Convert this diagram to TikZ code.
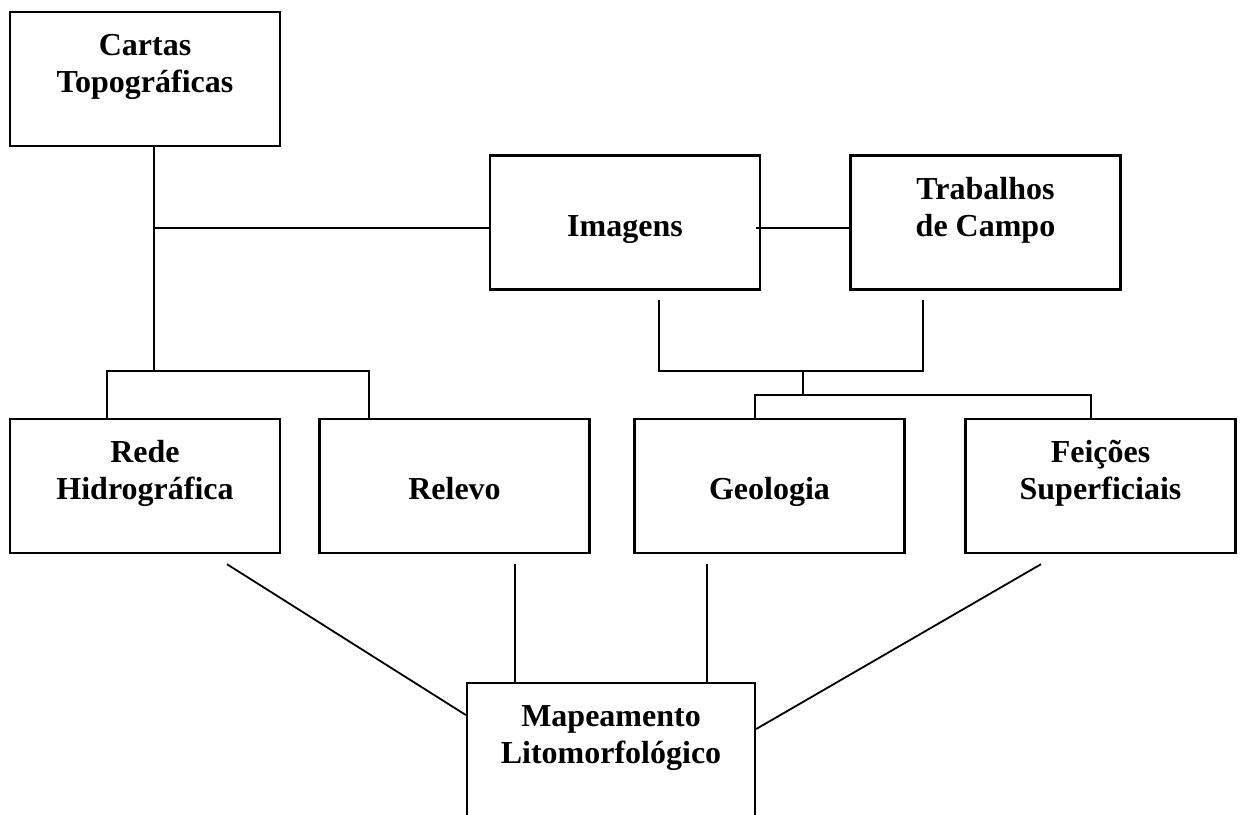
\documentclass[tikz,border=0pt]{standalone}
\usepackage{fontspec}
\setmainfont{Liberation Serif}
\usetikzlibrary{positioning}

\begin{document}
\begin{tikzpicture}[x=0.5pt,y=-0.5pt]
        \tikzstyle{main}=[rectangle, draw=black, line width=1.2pt, minimum width=135pt, minimum height=67pt, inner sep=0pt, align=center, text height=16.5pt, text depth=3pt, font=\fontsize{16}{18.5}\selectfont\bfseries]
        \tikzstyle{connect}=[line width=0.9pt]
        \useasboundingbox (0,0) rectangle (1240,814);
        % sources
        \node[main] (cartas) at (145,79) {Cartas\\Topográficas};
        \node[main] (imagens) at (625,222.5) {Imagens};
        \node[main] (trabalhos) at (985.5,222.5) {Trabalhos\\de Campo};
        % themes
        \node[main] (rede) at (145,486) {Rede\\Hidrográfica};
        \node[main] (relevo) at (454.5,486) {Relevo};
        \node[main] (geologia) at (769.5,486) {Geologia};
        \node[main] (feicoes) at (1100.5,486) {Feições\\Superficiais};
        % result
        \node[main,minimum width=144pt] (mapa) at (611,750) {Mapeamento\\Litomorfológico};
        % joints
        \coordinate (ka) at (154,228);
        \coordinate (kb) at (154,371);
        \coordinate (ra) at (107,371);
        \coordinate (rb) at (369,371);
        \coordinate (ia) at ([xshift=17pt,yshift=-4.5pt]imagens.south);
        \coordinate (ta) at ([xshift=-31.25pt,yshift=-4.5pt]trabalhos.south);
        \coordinate (ib) at (659,371);
        \coordinate (tb) at (923,371);
        \coordinate (m1) at (803,371);
        \coordinate (m2) at (803,395);
        \coordinate (ga) at (755,395);
        \coordinate (fa) at (1091,395);
        \draw[connect] ([xshift=4.5pt]cartas.south) -- (kb);
        \draw[connect] (ka) -- (ka -| imagens.west);
        \draw[connect] ([xshift=-2.5pt]ka -| imagens.east) -- (ka -| trabalhos.west);
        \draw[connect] (rede.north -| ra) -- (ra) -- (rb) -- (relevo.north -| rb);
        \draw[connect] (ia) -- (ib) -- (tb) -- (ta);
        \draw[connect] (m1) -- (m2);
        \draw[connect] (geologia.north -| ga) -- (ga) -- (fa) -- (feicoes.north -| fa);
        \path ([xshift=41pt,yshift=-5pt]rede.south) edge [connect] ([yshift=17.5pt]mapa.west)
        ([xshift=30.25pt,yshift=-5pt]relevo.south) edge [connect] ([xshift=-48pt]mapa.north)
        ([xshift=-31.25pt,yshift=-5pt]geologia.south) edge [connect] ([xshift=48pt]mapa.north)
        ([xshift=-29.75pt,yshift=-5pt]feicoes.south) edge [connect] ([yshift=10.5pt]mapa.east);
      \end{tikzpicture}
\end{document}
